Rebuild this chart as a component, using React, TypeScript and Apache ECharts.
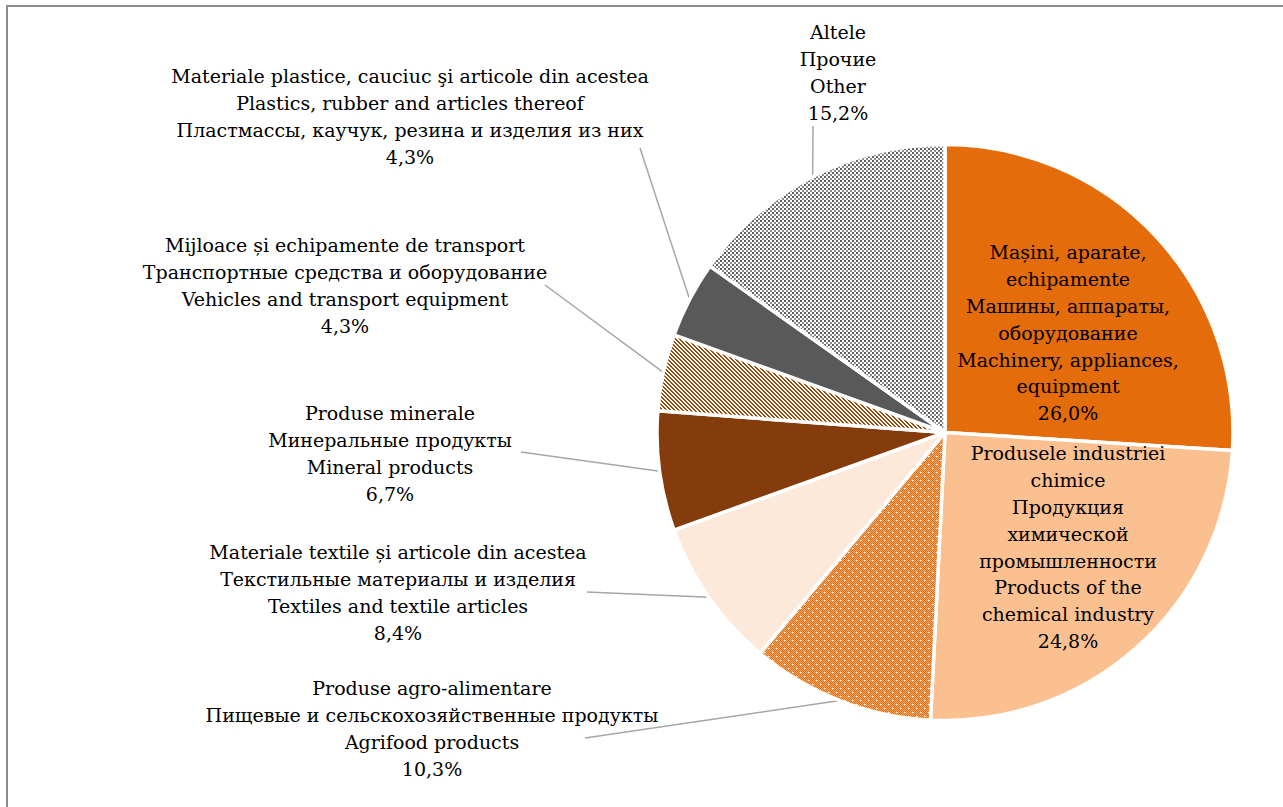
import React, { useEffect, useRef } from "react";
import * as echarts from "echarts";

// ---- data ----
const categories: string[] = [
  "Mașini, aparate,\nechipamente\nМашины, аппараты,\nоборудование\nMachinery, appliances,\nequipment",
  "Produsele industriei\nchimice\nПродукция\nхимической\nпромышленности\nProducts of the\nchemical industry",
  "Produse agro-alimentare\nПищевые и сельскохозяйственные продукты\nAgrifood products",
  "Materiale textile și articole din acestea\nТекстильные материалы и изделия\nTextiles and textile articles",
  "Produse minerale\nМинеральные продукты\nMineral products",
  "Mijloace și echipamente de transport\nТранспортные средства и оборудование\nVehicles and transport equipment",
  "Materiale plastice, cauciuc şi articole din acestea\nPlastics, rubber and articles thereof\nПластмассы, каучук, резина и изделия из них",
  "Altele\nПрочие\nOther",
];
const shares: number[] = [26.0, 24.8, 10.3, 8.4, 6.7, 4.3, 4.3, 15.2];

// ---- layout (label block centre-x / top-y, leader line end near label) ----
const labelPos: number[][] = [
  [1068, 239],
  [1068, 440],
  [432, 675],
  [398, 539],
  [390, 400],
  [345, 232],
  [410, 63],
  [838, 19],
];
const leaderEnds: (number[] | null)[] = [
  null,
  null,
  [585, 738],
  [587, 592],
  [521, 452],
  [545, 285],
  [640, 148],
  [813, 126],
];

function makeTile(size: number, fn: (x: number, y: number) => string): HTMLCanvasElement {
  const c = document.createElement("canvas");
  c.width = size;
  c.height = size;
  const ctx = c.getContext("2d")!;
  for (let y = 0; y < size; y++) {
    for (let x = 0; x < size; x++) {
      ctx.fillStyle = fn(x, y);
      ctx.fillRect(x, y, 1, 1);
    }
  }
  return c;
}

export default function App() {
  const ref = useRef<HTMLDivElement>(null);

  useEffect(() => {
    document.body.style.margin = "0";
    if (!ref.current) return;
    const chart = echarts.init(ref.current, undefined, { renderer: "svg" });

    const agroTile = makeTile(8, (x, y) => {
      const spot = (x === 4 || x === 5) && y === 4;
      const spot2 = (x === 0 || x === 1) && y === 0;
      if (spot || spot2) return "#ffffff";
      return (x + y) % 2 === 0 ? "#E46C0A" : "#F2A970";
    });
    const stripeTile = makeTile(4, (x, y) =>
      ((x - y + 8) % 4) < 2 ? "#984807" : "#ffffff"
    );
    const otherTile = makeTile(4, (x, y) => {
      const bx = Math.floor(x / 2);
      const by = Math.floor(y / 2);
      if (bx === 0 && by === 0) return "#5f5f5f";
      if (bx === 1 && by === 1) return "#8a8a8a";
      return "#ffffff";
    });

    const colors: any[] = [
      "#E46C0A",
      "#FAC090",
      { image: agroTile, repeat: "repeat" },
      "#FDE9D9",
      "#843C0C",
      { image: stripeTile, repeat: "repeat" },
      "#595959",
      { image: otherTile, repeat: "repeat" },
    ];

    const fmt = (v: number) => v.toFixed(1).replace(".", ",") + "%";

    const data = categories.map((name, i) => ({
      name,
      value: shares[i],
      itemStyle: { color: colors[i] },
      labelLine: { show: leaderEnds[i] !== null },
    }));

    chart.setOption({
      animation: false,
      graphic: [
        {
          type: "rect",
          z: -10,
          shape: { x: 7, y: 6, width: 1400, height: 900 },
          style: { fill: "none", stroke: "#8c8c8c", lineWidth: 2 },
        },
      ],
      series: [
        {
          type: "pie",
          center: [945, 432.5],
          radius: 288,
          startAngle: 90,
          clockwise: true,
          avoidLabelOverlap: false,
          itemStyle: { borderColor: "#ffffff", borderWidth: 3.5 },
          label: {
            show: true,
            position: "outside",
            formatter: (p: any) => p.name + "\n" + fmt(p.value),
            fontFamily: "DejaVu Serif",
            fontSize: 19,
            lineHeight: 26.8,
            color: "#000000",
            align: "center",
          },
          labelLine: {
            show: true,
            length: 10,
            length2: 10,
            lineStyle: { color: "#a6a6a6", width: 1.5 },
          },
          labelLayout: (params: any) => {
            const i = params.dataIndex;
            const pos = labelPos[i];
            const out: any = {
              x: pos[0],
              y: pos[1],
              align: "center",
              verticalAlign: "top",
            };
            const end = leaderEnds[i];
            if (end && params.labelLinePoints) {
              const p0 = params.labelLinePoints[0];
              out.labelLinePoints = [
                [p0[0], p0[1]],
                [end[0], end[1]],
                [end[0], end[1]],
              ];
            }
            return out;
          },
          data,
        },
      ],
    });

    return () => chart.dispose();
  }, []);

  return <div ref={ref} style={{ width: 1283, height: 807 }} />;
}
